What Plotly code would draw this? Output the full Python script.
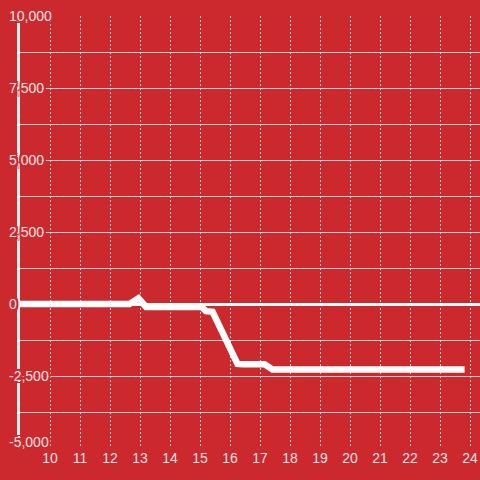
import plotly.graph_objects as go

# data
hours = [9.0, 12.65, 12.95, 13.2, 15.05, 15.2, 15.42, 15.75, 15.95, 16.25, 16.42, 17.15, 17.42, 23.82]
values = [0, 0, 200, -100, -100, -250, -270, -970, -1320, -2080, -2090, -2090, -2270, -2270]

x_ticks = list(range(10, 25))
y_label_vals = [10000, 7500, 5000, 2500, 0, -2500, -5000]
y_label_text = ["10,000", "7,500", "5,000", "2,500", "0", "-2,500", "-5,000"]
y_grid_vals = [v * 1250 for v in range(-4, 9)]

BG = "#CC292E"
TXT = "#F4E1E2"
GRID = "#CFCFCF"
halo = ", ".join(f"{dx}px {dy}px 0 {BG}" for dx, dy in
                 [(2, 0), (-2, 0), (0, 2), (0, -2), (2, 2), (-2, -2), (2, -2), (-2, 2)])

fig = go.Figure()
fig.add_trace(go.Scatter(
    x=hours, y=values, mode="lines",
    line=dict(color="#FFFFFF", width=6.5, shape="linear"),
    hoverinfo="skip", showlegend=False,
))

fig.update_layout(
    width=480, height=480,
    margin=dict(l=20, r=0, t=16, b=32),
    paper_bgcolor=BG, plot_bgcolor=BG,
    font=dict(family="Liberation Sans, Arial, sans-serif", size=14, color=TXT),
    showlegend=False,
)
fig.update_xaxes(
    range=[9, 24 + 1 / 3],
    tickvals=x_ticks, ticktext=[str(t) for t in x_ticks],
    showgrid=True, gridcolor=GRID, gridwidth=1, griddash="2px,2px",
    zeroline=False, showline=False, ticks="",
    tickfont=dict(size=14, color=TXT),
)
fig.update_yaxes(
    range=[-5000, 10000],
    tickvals=y_grid_vals, showticklabels=False,
    showgrid=True, gridcolor=GRID, gridwidth=1,
    zeroline=True, zerolinecolor="#FFFFFF", zerolinewidth=3,
    showline=True, linecolor="#F2F2F2", linewidth=3, ticks="",
)

lowest = min(y_label_vals)
for v, t in zip(y_label_vals, y_label_text):
    fig.add_annotation(
        x=0, xref="paper", xanchor="left", xshift=-13,
        y=v, yref="y", yanchor="middle", yshift=6 if v == lowest else 0,
        text=t, showarrow=False,
        font=dict(size=14, color=TXT, family="Liberation Sans, Arial, sans-serif", shadow=halo),
    )

fig.write_html(
    "out.html",
    config={"displayModeBar": False},
    post_script="document.body.style.margin='0';document.body.style.padding='0';",
)
